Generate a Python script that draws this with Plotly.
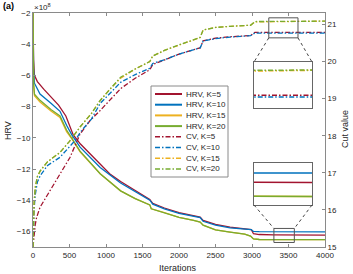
import plotly.graph_objects as go

# ---------------- data (HRV in units of 1e8, right axis = cut value) -------------
hrv_k5_it = [0, 3, 8, 20, 60, 150, 250, 350, 450, 550, 650, 800, 920, 1050, 1200, 1400, 1600, 1640,
             1800, 2000, 2200, 2290, 2330, 2500, 2700, 2900, 2990, 3020, 3100, 3300, 3600, 4000]
hrv_k5 = [-2.0, -3.5, -5.0, -6.0, -6.4, -6.9, -7.4, -7.9, -8.6, -9.8, -10.4, -11.1, -11.7, -12.3, -12.8,
          -13.4, -13.95, -14.2, -14.5, -14.8, -15.0, -15.08, -15.3, -15.55, -15.73, -15.85, -15.88,
          -16.15, -16.2, -16.22, -16.23, -16.24]

hrv_k10_it = [0, 3, 8, 20, 96, 250, 370, 460, 530, 645, 920, 1200, 1400, 1600, 1640, 1800, 2000,
              2200, 2290, 2330, 2500, 2700, 2900, 2990, 3020, 3100, 4000]
hrv_k10 = [-2.0, -3.8, -5.5, -6.5, -7.2, -7.8, -8.3, -9.2, -9.8, -10.6, -11.9, -12.9, -13.45, -14.0,
           -14.25, -14.55, -14.85, -15.05, -15.12, -15.35, -15.6, -15.77, -15.86, -15.88, -16.0,
           -16.02, -16.03]

hrv_k15_it = [0, 3, 8, 20, 96, 250, 370, 460, 530, 645, 920, 1200, 1400, 1600, 1620, 1800, 2000,
              2200, 2290, 2330, 2500, 2700, 2900, 2980, 3020, 3100, 4000]
hrv_k15 = [-2.0, -4.6, -6.6, -7.3, -7.7, -8.3, -8.7, -9.6, -10.05, -10.9, -12.3, -13.4, -13.9, -14.3,
           -14.55, -14.8, -15.1, -15.3, -15.4, -15.6, -15.9, -16.05, -16.18, -16.3, -16.48, -16.52,
           -16.53]

hrv_k20_it = [0, 3, 8, 20, 96, 250, 370, 460, 530, 645, 920, 1200, 1400, 1600, 1620, 1800, 2000,
              2200, 2290, 2330, 2500, 2700, 2900, 2980, 3020, 3100, 4000]
hrv_k20 = [-2.0, -4.5, -6.5, -7.2, -7.6, -8.2, -8.6, -9.5, -10.0, -10.85, -12.3, -13.4, -13.9, -14.3,
           -14.55, -14.8, -15.1, -15.3, -15.4, -15.6, -15.9, -16.05, -16.18, -16.3, -16.48, -16.52,
           -16.53]

cv_k5_it = [0, 10, 30, 50, 96, 233, 370, 508, 645, 782, 920, 1200, 1400, 1600, 1640, 1800, 2000,
            2200, 2290, 2330, 2500, 2700, 2980, 3040, 4000]
cv_k5 = [15.0, 15.3, 15.6, 15.8, 16.07, 16.52, 16.97, 17.42, 18.05, 18.41, 18.68, 19.27, 19.55, 19.78,
         19.92, 20.05, 20.2, 20.32, 20.37, 20.56, 20.63, 20.67, 20.7, 20.79, 20.79]

cv_k10_it = [0, 5, 15, 30, 60, 100, 200, 370, 500, 576, 650, 800, 920, 1200, 1400, 1600, 1640, 1800,
             2000, 2200, 2290, 2330, 2500, 2700, 2980, 3040, 4000]
cv_k10 = [15.0, 15.4, 16.0, 16.4, 16.75, 16.93, 17.2, 17.42, 17.7, 17.87, 18.1, 18.45, 18.87, 19.44,
          19.65, 19.82, 19.95, 20.05, 20.2, 20.32, 20.37, 20.55, 20.62, 20.66, 20.7, 20.77, 20.77]

cv_k15_it = [0, 5, 15, 30, 60, 100, 200, 370, 500, 650, 800, 920, 1050, 1200, 1400, 1600, 1640, 1800,
             2000, 2200, 2290, 2330, 2500, 2700, 2980, 3040, 4000]
cv_k15 = [15.0, 15.6, 16.2, 16.6, 16.9, 17.05, 17.3, 17.55, 17.85, 18.25, 18.6, 18.95, 19.25, 19.55,
          19.8, 20.0, 20.15, 20.3, 20.45, 20.6, 20.65, 20.85, 20.92, 20.95, 20.98, 21.07, 21.09]

cv_k20_it = [0, 5, 15, 30, 60, 100, 200, 370, 500, 650, 800, 920, 1050, 1200, 1400, 1600, 1640, 1800,
             2000, 2200, 2290, 2330, 2500, 2700, 2980, 3040, 4000]
cv_k20 = [15.0, 15.6, 16.2, 16.6, 16.9, 17.06, 17.3, 17.55, 17.85, 18.25, 18.6, 18.95, 19.25, 19.58,
          19.8, 20.0, 20.15, 20.3, 20.45, 20.6, 20.65, 20.85, 20.92, 20.95, 20.98, 21.08, 21.09]

series_names = ["HRV, K=5", "HRV, K=10", "HRV, K=15", "HRV, K=20",
                "CV, K=5", "CV, K=10", "CV, K=15", "CV, K=20"]
colors = ["#A2142F", "#0072BD", "#EDB120", "#77AC30"]

x_ticks = [0, 500, 1000, 1500, 2000, 2500, 3000, 3500, 4000]
y_left_ticks = [-16, -14, -12, -10, -8, -6, -4, -2]
y_right_ticks = [15, 16, 17, 18, 19, 20, 21]

x_title = "Iterations"
y_left_title = "HRV"
y_right_title = "Cut value"

x_range = [0, 4000]
y_left_range = [-17, -2]
y_right_range = [15, 21.31]

# zoom windows
zoom_cv_x = [3230, 3630]
zoom_cv_y = [20.64, 21.18]
zoom_hrv_x = [3300, 3580]
zoom_hrv_y = [-16.71, -15.81]

# ---------------- figure ----------------
W, H = 353, 274
ML, MR, MT, MB = 33, 28, 13, 27
PW, PH = W - ML - MR, H - MT - MB


def px2paper(px, py):
    return (px - ML) / PW, (H - MB - py) / PH


up_dom_x = [px2paper(254, 0)[0], px2paper(312, 0)[0]]
up_dom_y = [px2paper(0, 108)[1], px2paper(0, 62)[1]]
lo_dom_x = [px2paper(254, 0)[0], px2paper(312, 0)[0]]
lo_dom_y = [px2paper(0, 205)[1], px2paper(0, 163)[1]]

fig = go.Figure()

hrv = [(hrv_k5_it, hrv_k5), (hrv_k10_it, hrv_k10), (hrv_k15_it, hrv_k15), (hrv_k20_it, hrv_k20)]
cv = [(cv_k5_it, cv_k5), (cv_k10_it, cv_k10), (cv_k15_it, cv_k15), (cv_k20_it, cv_k20)]
DASHDOT = "5px,2px,1.5px,2px"

for i, (xs, ys) in enumerate(hrv):
    fig.add_trace(go.Scatter(x=xs, y=ys, mode="lines", name=series_names[i],
                             line=dict(color=colors[i], width=1.3), xaxis="x", yaxis="y",
                             showlegend=False))
for i, (xs, ys) in enumerate(cv):
    fig.add_trace(go.Scatter(x=xs, y=ys, mode="lines", name=series_names[4 + i],
                             line=dict(color=colors[i], width=1.3, dash=DASHDOT), xaxis="x", yaxis="y2",
                             showlegend=False))
# insets
for i, (xs, ys) in enumerate(cv):
    fig.add_trace(go.Scatter(x=xs, y=ys, mode="lines", name=series_names[4 + i],
                             line=dict(color=colors[i], width=1.5, dash=DASHDOT), xaxis="x3", yaxis="y3",
                             showlegend=False, hoverinfo="skip"))
for i, (xs, ys) in enumerate(hrv):
    fig.add_trace(go.Scatter(x=xs, y=ys, mode="lines", name=series_names[i],
                             line=dict(color=colors[i], width=1.5), xaxis="x4", yaxis="y4",
                             showlegend=False, hoverinfo="skip"))

AX = "#8a8a8a"
TXT = "#262626"
FONT = "Liberation Sans, Arial, sans-serif"
tickfont = dict(family=FONT, size=8, color=TXT)

inset_axis = dict(showline=True, mirror=True, linecolor="#666666", linewidth=1, ticks="",
                  showticklabels=False, showgrid=False, zeroline=False)

fig.update_layout(
    width=W, height=H,
    margin=dict(l=ML, r=MR, t=MT, b=MB, autoexpand=False),
    paper_bgcolor="white", plot_bgcolor="white",
    showlegend=False,
    xaxis=dict(range=x_range, tickvals=x_ticks, ticks="inside", ticklen=3, tickcolor=AX,
               showline=True, linecolor=AX, linewidth=1, mirror="ticks", showgrid=False,
               zeroline=False, tickfont=tickfont, domain=[0, 1]),
    yaxis=dict(range=y_left_range, tickvals=y_left_ticks, ticks="inside", ticklen=3, tickcolor=AX,
               showline=True, linecolor=AX, linewidth=1, showgrid=False, zeroline=False,
               tickfont=tickfont),
    yaxis2=dict(range=y_right_range, tickvals=y_right_ticks, ticks="inside", ticklen=3, tickcolor=AX,
                showline=True, linecolor=AX, linewidth=1, showgrid=False, zeroline=False,
                overlaying="y", side="right", tickfont=tickfont, anchor="x"),
    xaxis3=dict(domain=up_dom_x, range=zoom_cv_x, anchor="y3", **inset_axis),
    yaxis3=dict(domain=up_dom_y, range=zoom_cv_y, anchor="x3", **inset_axis),
    xaxis4=dict(domain=lo_dom_x, range=zoom_hrv_x, anchor="y4", **inset_axis),
    yaxis4=dict(domain=lo_dom_y, range=zoom_hrv_y, anchor="x4", **inset_axis),
)


def to_paper_x(v):
    return (v - x_range[0]) / (x_range[1] - x_range[0])


def to_paper_yl(v):
    return (v - y_left_range[0]) / (y_left_range[1] - y_left_range[0])


def to_paper_yr(v):
    return (v - y_right_range[0]) / (y_right_range[1] - y_right_range[0])


shapes = []
# zoom rectangles
shapes.append(dict(type="rect", xref="x", yref="y2", x0=zoom_cv_x[0], x1=zoom_cv_x[1],
                   y0=zoom_cv_y[0], y1=zoom_cv_y[1], line=dict(color="#555555", width=1)))
shapes.append(dict(type="rect", xref="x", yref="y", x0=zoom_hrv_x[0], x1=zoom_hrv_x[1],
                   y0=zoom_hrv_y[0], y1=zoom_hrv_y[1], line=dict(color="#555555", width=1)))
# connectors (upper): rect bottom corners -> inset top corners
for xv, dx in ((zoom_cv_x[0], up_dom_x[0]), (zoom_cv_x[1], up_dom_x[1])):
    shapes.append(dict(type="line", xref="paper", yref="paper",
                       x0=to_paper_x(xv), y0=to_paper_yr(zoom_cv_y[0]), x1=dx, y1=up_dom_y[1],
                       line=dict(color="#444444", width=1, dash="dot")))
# connectors (lower): inset bottom corners -> rect top corners
for xv, dx in ((zoom_hrv_x[0], lo_dom_x[0]), (zoom_hrv_x[1], lo_dom_x[1])):
    shapes.append(dict(type="line", xref="paper", yref="paper",
                       x0=dx, y0=lo_dom_y[0], x1=to_paper_x(xv), y1=to_paper_yl(zoom_hrv_y[1]),
                       line=dict(color="#444444", width=1, dash="dot")))

# manual legend
lx0, ly0 = px2paper(151, 86)
lx1, ly1 = px2paper(228, 177)
shapes.append(dict(type="rect", xref="paper", yref="paper", x0=lx0, x1=lx1, y0=ly1, y1=ly0,
                   fillcolor="white", line=dict(color="#8a8a8a", width=1), layer="above"))
annotations = []
for i, name in enumerate(series_names):
    py = 94 + i * 10.7
    xa, ya = px2paper(155, py)
    xb, _ = px2paper(182, py)
    shapes.append(dict(type="line", xref="paper", yref="paper", x0=xa, x1=xb, y0=ya, y1=ya,
                       line=dict(color=colors[i % 4], width=2 if i < 4 else 1.5,
                                 dash="solid" if i < 4 else DASHDOT)))
    xt, _ = px2paper(183.5, py)
    annotations.append(dict(text=name, xref="paper", yref="paper", x=xt, y=ya, xanchor="left",
                            yanchor="middle", showarrow=False,
                            font=dict(family=FONT, size=8, color=TXT)))

title_font = dict(family=FONT, size=9, color=TXT)
tx, ty = px2paper(178, 268)
annotations.append(dict(text=x_title, xref="paper", yref="paper", x=tx, y=ty, xanchor="center",
                        yanchor="middle", showarrow=False, font=title_font))
tx, ty = px2paper(8, 131)
annotations.append(dict(text=y_left_title, xref="paper", yref="paper", x=tx, y=ty, xanchor="center",
                        yanchor="middle", showarrow=False, font=title_font, textangle=-90))
tx, ty = px2paper(345, 129)
annotations.append(dict(text=y_right_title, xref="paper", yref="paper", x=tx, y=ty, xanchor="center",
                        yanchor="middle", showarrow=False, font=title_font, textangle=-90))

ax_, ay_ = px2paper(1, 6)
annotations.append(dict(text="<b>(a)</b>", xref="paper", yref="paper", x=ax_, y=ay_, xanchor="left",
                        yanchor="middle", showarrow=False, font=dict(family=FONT, size=9, color="black")))
ex, ey = px2paper(32, 7)
annotations.append(dict(text="×10<sup>8</sup>", xref="paper", yref="paper", x=ex, y=ey, xanchor="left",
                        yanchor="middle", showarrow=False, font=dict(family=FONT, size=8, color=TXT)))

fig.update_layout(shapes=shapes, annotations=annotations)
fig.write_html("out.html", config={"displayModeBar": False},
               post_script="document.body.style.margin='0';document.body.style.overflow='hidden';")
